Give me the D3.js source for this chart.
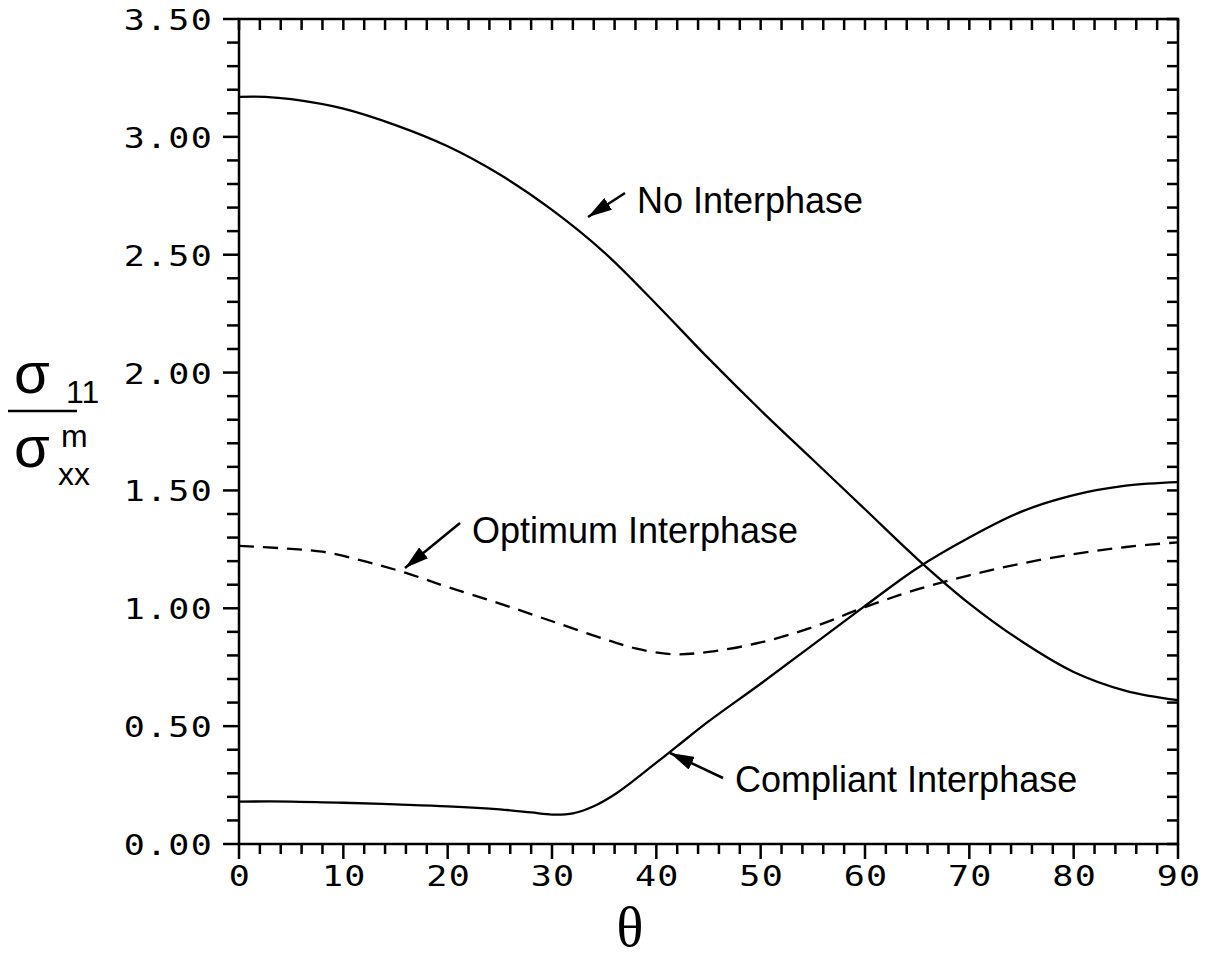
<!DOCTYPE html>
<html>
<head>
<meta charset="utf-8">
<script src="https://cdn.jsdelivr.net/npm/d3@7"></script>
<style>
  html, body { margin: 0; padding: 0; background: #fff; }
  svg { display: block; }
  .tick-label {
    font-family: "DejaVu Sans Mono", monospace;
    font-size: 28px;
    letter-spacing: 1px;
    fill: #000;
  }
  .note { font-family: "Liberation Sans", Arial, sans-serif; font-size: 36px; fill: #000; }
</style>
</head>
<body>
<svg id="chart" width="1209" height="961"></svg>
<script>
// Fibre angle (degrees) at which the stress ratio was sampled
const thetaNone = [0, 2.5, 5, 10, 15, 20, 25, 30, 35, 40, 45, 50, 55, 60, 65, 70, 75, 80, 85, 90];
const noInterphase = [3.17, 3.17, 3.16, 3.12, 3.05, 2.96, 2.84, 2.69, 2.51, 2.29, 2.06, 1.84, 1.63, 1.42, 1.21, 1.02, 0.86, 0.73, 0.65, 0.61];

const thetaCompliant = [0, 5, 10, 15, 20, 25, 28, 30, 32, 34, 36, 38, 40, 42, 45, 50, 55, 60, 65, 70, 75, 80, 85, 90];
const compliantInterphase = [0.18, 0.18, 0.175, 0.168, 0.16, 0.147, 0.134, 0.125, 0.13, 0.16, 0.21, 0.275, 0.345, 0.415, 0.52, 0.68, 0.845, 1.01, 1.17, 1.30, 1.41, 1.48, 1.52, 1.535];

const thetaOptimum = [0, 4, 8, 12, 16, 20, 25, 30, 35, 38, 41.5, 45, 50, 55, 60, 65, 70, 75, 80, 85, 90];
const optimumInterphase = [1.265, 1.255, 1.24, 1.20, 1.15, 1.09, 1.02, 0.945, 0.87, 0.83, 0.805, 0.815, 0.855, 0.92, 1.005, 1.08, 1.14, 1.19, 1.23, 1.26, 1.28];

const xTickValues = [0, 10, 20, 30, 40, 50, 60, 70, 80, 90];
const yTickValues = [0, 0.5, 1.0, 1.5, 2.0, 2.5, 3.0, 3.5];
const yTickLabels = ["0.00", "0.50", "1.00", "1.50", "2.00", "2.50", "3.00", "3.50"];

const svg = d3.select("#chart");
const x = d3.scaleLinear().domain([0, 90]).range([239, 1178]);
const y = d3.scaleLinear().domain([0, 3.5]).range([844, 19]);

const axisStroke = 2.5;
const frame = svg.append("g").attr("stroke", "#000").attr("stroke-width", axisStroke).attr("fill", "none");

// Frame
frame.append("rect")
  .attr("x", x(0)).attr("y", y(3.5))
  .attr("width", x(90) - x(0)).attr("height", y(0) - y(3.5));

// Bottom axis: minor every 2 deg, major every 10 deg, pointing down
const xMinor = d3.range(0, 90.001, 2);
frame.selectAll("line.xb").data(xMinor).join("line")
  .attr("class", "xb")
  .attr("x1", d => x(d)).attr("x2", d => x(d))
  .attr("y1", y(0)).attr("y2", d => y(0) + (d % 10 === 0 ? 15 : 10));
// Top axis: short ticks hanging into the plot
frame.selectAll("line.xt").data(xMinor).join("line")
  .attr("class", "xt")
  .attr("x1", d => x(d)).attr("x2", d => x(d))
  .attr("y1", y(3.5)).attr("y2", y(3.5) + 11);

// Left axis: minor every 0.1, major every 0.5, pointing left
const yMinor = d3.range(0, 36).map(i => i / 10);
frame.selectAll("line.yl").data(yMinor).join("line")
  .attr("class", "yl")
  .attr("y1", d => y(d)).attr("y2", d => y(d))
  .attr("x1", x(0)).attr("x2", (d, i) => x(0) - (i % 5 === 0 ? 16 : 12));
// Right axis: short ticks pointing into the plot
frame.selectAll("line.yr").data(yMinor).join("line")
  .attr("class", "yr")
  .attr("y1", d => y(d)).attr("y2", d => y(d))
  .attr("x1", x(90)).attr("x2", x(90) - 11);

// Tick labels in a widened monospace face (plotter-style lettering)
const widen = 1.25;
svg.selectAll("text.xlab").data(xTickValues).join("text")
  .attr("class", "tick-label xlab")
  .attr("transform", d => `translate(${x(d) + 1},886) scale(${widen},1)`)
  .attr("text-anchor", "middle")
  .text(d => String(d));

svg.selectAll("text.ylab").data(yTickValues).join("text")
  .attr("class", "tick-label ylab")
  .attr("transform", d => `translate(213,${y(d) + 11}) scale(${widen},1)`)
  .attr("text-anchor", "end")
  .text((d, i) => yTickLabels[i]);

// Curves
const line = d3.line().x(d => x(d[0])).y(d => y(d[1])).curve(d3.curveCatmullRom.alpha(0.5));
const curves = [
  { t: thetaNone, v: noInterphase, dash: null },
  { t: thetaCompliant, v: compliantInterphase, dash: null },
  { t: thetaOptimum, v: optimumInterphase, dash: "15,9" }
];
svg.append("g").selectAll("path").data(curves).join("path")
  .attr("d", c => line(d3.zip(c.t, c.v)))
  .attr("fill", "none")
  .attr("stroke", "#000")
  .attr("stroke-width", 2.3)
  .attr("stroke-dasharray", c => c.dash);

// Callouts with arrows
svg.append("defs").append("marker")
  .attr("id", "head")
  .attr("viewBox", "0 0 24 14")
  .attr("refX", 24).attr("refY", 7)
  .attr("markerWidth", 24).attr("markerHeight", 14)
  .attr("markerUnits", "userSpaceOnUse")
  .attr("orient", "auto")
  .append("path").attr("d", "M0,0 L24,7 L0,14 Z").attr("fill", "#000");

const notes = [
  { text: "No Interphase", tx: 637, ty: 213, from: [625, 193], to: [588, 217] },
  { text: "Optimum Interphase", tx: 472, ty: 543, from: [460, 523], to: [405, 568] },
  { text: "Compliant Interphase", tx: 735, ty: 792, from: [723, 778], to: [670, 753] }
];
const ng = svg.append("g");
ng.selectAll("line").data(notes).join("line")
  .attr("x1", d => d.from[0]).attr("y1", d => d.from[1])
  .attr("x2", d => d.to[0]).attr("y2", d => d.to[1])
  .attr("stroke", "#000").attr("stroke-width", 2.5)
  .attr("marker-end", "url(#head)");
ng.selectAll("text").data(notes).join("text")
  .attr("class", "note")
  .attr("x", d => d.tx).attr("y", d => d.ty)
  .text(d => d.text);

// Axis titles
svg.append("text")
  .attr("x", 630).attr("y", 946)
  .attr("text-anchor", "middle")
  .attr("font-family", "Liberation Serif, Times New Roman, serif")
  .attr("font-size", 56)
  .text("θ");

const yt = svg.append("g").attr("font-family", "Liberation Sans, Arial, sans-serif").attr("fill", "#000");
yt.append("text").attr("x", 14).attr("y", 393).attr("font-size", 58).text("σ");
yt.append("text").attr("x", 66).attr("y", 403).attr("font-size", 32).text("11");
yt.append("line").attr("x1", 8).attr("x2", 77).attr("y1", 411).attr("y2", 411)
  .attr("stroke", "#000").attr("stroke-width", 2.5);
yt.append("text").attr("x", 14).attr("y", 467).attr("font-size", 58).text("σ");
yt.append("text").attr("x", 61).attr("y", 447).attr("font-size", 32).text("m");
yt.append("text").attr("x", 58).attr("y", 485).attr("font-size", 32).text("xx");
</script>
</body>
</html>
